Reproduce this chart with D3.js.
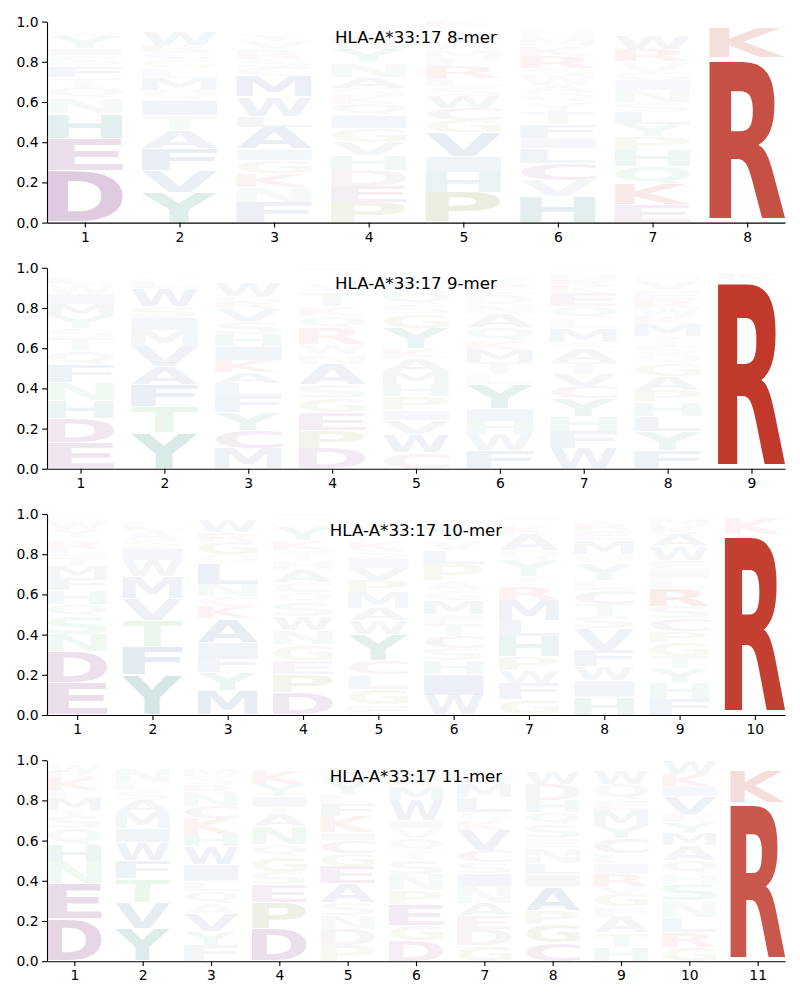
<!DOCTYPE html>
<html>
<head>
<meta charset="utf-8">
<script src="https://cdn.jsdelivr.net/npm/d3@7"></script>
<style>
  body { margin: 0; background: #fff; }
  svg { display: block; }
  .tick text { font-family: 'DejaVu Sans', sans-serif; font-size: 13.9px; fill: #000; }
</style>
</head>
<body>
<svg id="chart" width="800" height="1000"></svg>
<script>
// Panel titles
const titles = ["HLA-A*33:17 8-mer", "HLA-A*33:17 9-mer", "HLA-A*33:17 10-mer", "HLA-A*33:17 11-mer"];
const yTickValues = [0, 0.2, 0.4, 0.6, 0.8, 1.0];

// Per-position letter probabilities, listed bottom -> top of each stack
const cols8 = [
  {D:.26,E:.16,H:.125,N:.075,Q:.055,T:.05,F:.055,S:.045,I:.04,Y:.06,W:.025,K:.02,R:.015,L:.015},
  {Y:.15,V:.11,F:.11,A:.09,T:.075,I:.075,Q:.05,M:.06,L:.05,G:.04,C:.04,R:.03,W:.07,K:.02,S:.015,E:.015},
  {F:.10,N:.075,K:.07,G:.065,I:.055,A:.11,L:.055,W:.095,M:.10,C:.05,S:.04,R:.05,V:.04,Y:.03,E:.015,Q:.015,P:.015,H:.01,T:.005,D:.005},
  {P:.10,E:.08,D:.08,H:.075,V:.065,G:.07,I:.065,Q:.055,K:.04,S:.04,A:.055,N:.07,Y:.065,W:.03,R:.025,L:.025,M:.02,T:.02,F:.015,C:.005},
  {P:.15,H:.10,I:.08,V:.12,G:.06,C:.06,W:.06,S:.05,L:.04,R:.06,F:.04,M:.04,A:.04,Y:.03,T:.02,E:.015,N:.01,K:.025},
  {H:.13,V:.08,C:.085,L:.075,I:.05,F:.07,T:.06,Y:.05,Q:.045,A:.04,W:.045,S:.04,R:.06,K:.05,M:.04,N:.03,E:.015,D:.015,G:.01,P:.01},
  {E:.09,K:.10,Q:.09,H:.08,P:.07,Y:.06,L:.06,S:.05,N:.06,I:.05,G:.04,V:.05,R:.06,W:.07,F:.02,A:.02,T:.015,M:.015},
  {R:.82,K:.15,Q:.01,N:.01,H:.01}
];
const cols9 = [
  {E:.13,D:.12,H:.09,N:.09,F:.09,Q:.07,T:.06,S:.05,Y:.06,M:.06,I:.05,W:.05,L:.03,K:.02,R:.02,A:.01},
  {Y:.18,T:.13,F:.11,A:.09,V:.10,M:.08,I:.065,S:.055,W:.09,L:.03,Q:.025,G:.02,K:.01,R:.005,C:.005,H:.005},
  {M:.10,C:.09,Y:.09,F:.08,L:.065,A:.055,K:.06,I:.07,H:.06,S:.065,V:.06,R:.03,G:.035,W:.065,E:.02,T:.02,Q:.015,N:.01,D:.01},
  {D:.10,P:.09,E:.09,G:.07,S:.07,A:.10,N:.05,W:.05,R:.08,Q:.06,K:.05,T:.07,Y:.04,M:.02,V:.02,L:.01,H:.01,F:.01,I:.01},
  {C:.08,W:.09,V:.07,I:.05,P:.07,H:.06,M:.06,A:.07,K:.05,Y:.10,G:.07,S:.05,Q:.06,L:.03,F:.03,E:.02,T:.02,N:.01,D:.01},
  {F:.09,W:.08,H:.065,I:.065,Y:.12,L:.05,T:.06,M:.06,K:.05,Q:.065,A:.065,N:.05,D:.05,E:.04,S:.03,G:.03,R:.02,V:.01},
  {W:.10,F:.085,H:.075,Y:.09,C:.06,V:.06,T:.06,A:.07,S:.03,M:.07,L:.05,Q:.06,E:.065,K:.03,R:.03,N:.03,G:.02,I:.015},
  {F:.09,Y:.095,L:.075,H:.07,P:.06,A:.07,G:.06,Q:.05,S:.04,T:.05,M:.06,K:.04,W:.04,R:.04,E:.05,V:.05,I:.02,N:.02,D:.01,C:.01},
  {R:.94,K:.03,Q:.01,H:.01,M:.01}
];
const cols10 = [
  {E:.16,D:.155,N:.085,S:.09,Q:.06,H:.07,F:.06,M:.06,T:.05,L:.035,R:.04,K:.02,Y:.04,W:.035,I:.02,A:.01,G:.01},
  {Y:.20,F:.14,T:.13,V:.11,M:.11,W:.08,I:.06,S:.04,A:.05,L:.04,Q:.02,K:.01,G:.005,R:.005},
  {M:.12,Y:.09,F:.08,I:.07,A:.12,K:.06,C:.05,N:.06,L:.10,Q:.05,G:.06,R:.05,W:.06,S:.02,E:.01},
  {D:.11,P:.09,E:.07,G:.08,N:.07,W:.07,S:.07,Q:.05,C:.05,A:.06,H:.05,T:.05,K:.05,Y:.065,F:.015,M:.015,L:.01,R:.015,I:.01},
  {F:.05,G:.08,L:.07,C:.07,Y:.13,W:.07,A:.06,M:.08,P:.06,V:.06,I:.05,S:.04,K:.04,Q:.03,T:.03,E:.02,N:.02,H:.02,R:.02},
  {W:.10,I:.10,H:.07,S:.06,C:.06,T:.06,F:.05,M:.07,G:.05,A:.05,P:.08,L:.07,V:.05,Y:.06,K:.02,R:.01,E:.01,Q:.02,N:.01},
  {G:.08,F:.08,W:.06,P:.07,H:.10,L:.08,M:.10,R:.07,T:.05,Y:.08,Q:.05,A:.08,K:.04,E:.02,S:.01,I:.01,N:.01,C:.01},
  {H:.09,I:.08,W:.07,F:.08,V:.11,S:.06,T:.06,C:.07,L:.05,Y:.08,Q:.05,M:.07,E:.05,R:.03,K:.02,A:.01,G:.01,N:.01},
  {F:.08,H:.08,Y:.07,T:.06,G:.07,P:.055,C:.065,S:.06,R:.09,L:.05,I:.04,E:.05,W:.07,A:.06,K:.04,M:.03,Q:.02,N:.01},
  {R:.90,K:.08,Q:.01,H:.01}
];
const cols11 = [
  {D:.21,E:.175,N:.105,H:.09,Q:.08,S:.06,T:.03,M:.06,L:.04,K:.06,R:.03,W:.03,Y:.02,F:.01},
  {Y:.16,V:.13,T:.12,F:.09,W:.09,I:.07,M:.08,A:.06,S:.05,L:.04,N:.07,Q:.02,K:.01,G:.01},
  {F:.08,Y:.07,V:.09,A:.05,Q:.06,L:.05,I:.08,W:.09,H:.06,K:.08,C:.06,N:.06,R:.05,S:.04,M:.03,E:.02,G:.02,T:.01},
  {D:.16,P:.13,E:.09,S:.06,G:.08,Q:.06,N:.09,A:.06,T:.04,I:.05,Y:.06,K:.07,L:.02,W:.02,M:.01},
  {P:.08,D:.08,N:.07,S:.06,A:.095,E:.085,G:.065,C:.065,I:.04,K:.08,F:.06,L:.05,Y:.065,W:.03,M:.02,T:.01,Q:.02,H:.015,V:.01},
  {D:.10,G:.08,E:.10,P:.07,N:.08,S:.07,T:.05,Q:.06,V:.05,I:.04,W:.10,M:.07,K:.04,Y:.03,F:.02,L:.02,A:.01,R:.01},
  {G:.08,D:.08,E:.07,A:.06,N:.08,I:.065,S:.055,C:.06,V:.10,K:.05,Q:.04,L:.075,M:.065,W:.04,Y:.03,F:.02,R:.01,T:.01,H:.01},
  {C:.09,G:.09,P:.07,A:.12,I:.06,L:.055,N:.075,E:.05,S:.07,Q:.06,H:.06,D:.08,W:.06,K:.01,R:.02,M:.02,V:.01},
  {H:.07,T:.07,A:.08,F:.05,G:.065,V:.04,R:.06,I:.05,L:.05,C:.075,Y:.06,M:.08,E:.05,Q:.08,W:.07,K:.02,S:.01,N:.01,D:.01},
  {G:.07,R:.075,L:.075,N:.08,S:.085,H:.05,Q:.065,A:.075,M:.06,Y:.055,E:.04,V:.09,I:.05,K:.06,W:.07,F:.01},
  {R:.79,K:.16,Q:.02,H:.01,N:.01,M:.01}
];
const panels = [cols8, cols9, cols10, cols11];

// Colour groups
const groupColor = {
  acidic: "#8c468c", basic: "#c0392b", teal: "#37918a",
  hydro: "#4c76a6", polar: "#68bd77", olive: "#919137"
};
const letterGroup = {
  D:"acidic", E:"acidic", C:"acidic",
  R:"basic", K:"basic",
  H:"teal", Y:"teal",
  A:"hydro", V:"hydro", L:"hydro", I:"hydro", M:"hydro", F:"hydro", W:"hydro",
  N:"polar", Q:"polar", S:"polar", T:"polar",
  P:"olive", G:"olive"
};

// Layout
const svg = d3.select("#chart");
const left = 47, right = 785, panelH = 201;
const tops = [21.6, 267.8, 514, 760.2];
const alpha = d3.scaleLinear().domain([0, 0.93]).range([0, 1]).clamp(true);

// Glyph ink bounds via canvas
const ctx = document.createElement("canvas").getContext("2d");
const FS = 100;
ctx.font = `bold ${FS}px 'DejaVu Sans'`;
const inkCache = {};
function ink(ch) {
  if (!inkCache[ch]) {
    const m = ctx.measureText(ch);
    inkCache[ch] = { l: -m.actualBoundingBoxLeft, r: m.actualBoundingBoxRight,
                     t: -m.actualBoundingBoxAscent, b: m.actualBoundingBoxDescent };
  }
  return inkCache[ch];
}

panels.forEach((cols, pi) => {
  const n = cols.length;
  const g = svg.append("g").attr("transform", `translate(${left},${tops[pi]})`);
  const x = d3.scaleLinear().domain([0.6, n + 0.4]).range([0, right - left]);
  const y = d3.scaleLinear().domain([0, 1]).range([panelH, 0]);

  const letters = [];
  cols.forEach((col, ci) => {
    let cum = 0;
    Object.entries(col).forEach(([ch, v]) => {
      letters.push({ pos: ci + 1, ch, v, y0: cum });
      cum += v;
    });
  });

  const lg = g.append("g");
  letters.forEach(d => {
    const pad = d.v * 0.025;
    const x0 = x(d.pos - 0.4), x1 = x(d.pos + 0.4);
    const yt = y(d.y0 + d.v - pad), yb = y(d.y0 + pad);
    const b = ink(d.ch);
    const sx = (x1 - x0) / (b.r - b.l), sy = (yb - yt) / (b.b - b.t);
    lg.append("text")
      .attr("x", 0).attr("y", 0)
      .attr("font-family", "'DejaVu Sans'")
      .attr("font-weight", "bold")
      .attr("font-size", FS)
      .attr("fill", groupColor[letterGroup[d.ch]])
      .attr("fill-opacity", alpha(d.v))
      .attr("transform", `translate(${x0},${yt}) scale(${sx},${sy}) translate(${-b.l},${-b.t})`)
      .text(d.ch);
  });

  const xa = g.append("g").attr("transform", `translate(0,${panelH})`)
    .call(d3.axisBottom(x).tickValues(d3.range(1, n + 1)).tickFormat(d3.format("d"))
      .tickSize(4.9).tickPadding(4.2).tickSizeOuter(0));
  const ya = g.append("g")
    .call(d3.axisLeft(y).tickValues(yTickValues).tickFormat(d3.format(".1f"))
      .tickSize(4.9).tickPadding(3.5).tickSizeOuter(0));
  [xa, ya].forEach(a => {
    a.selectAll("path.domain").attr("stroke", "#000").attr("stroke-width", 1.1);
    a.selectAll(".tick line").attr("stroke", "#000").attr("stroke-width", 1.1);
    a.attr("font-family", null).attr("font-size", null);
  });

  g.append("text")
    .attr("x", (right - left) / 2).attr("y", 21.5)
    .attr("text-anchor", "middle")
    .attr("font-family", "'DejaVu Sans'")
    .attr("font-size", 16.67)
    .attr("fill", "#000")
    .text(titles[pi]);
});
</script>
</body>
</html>
